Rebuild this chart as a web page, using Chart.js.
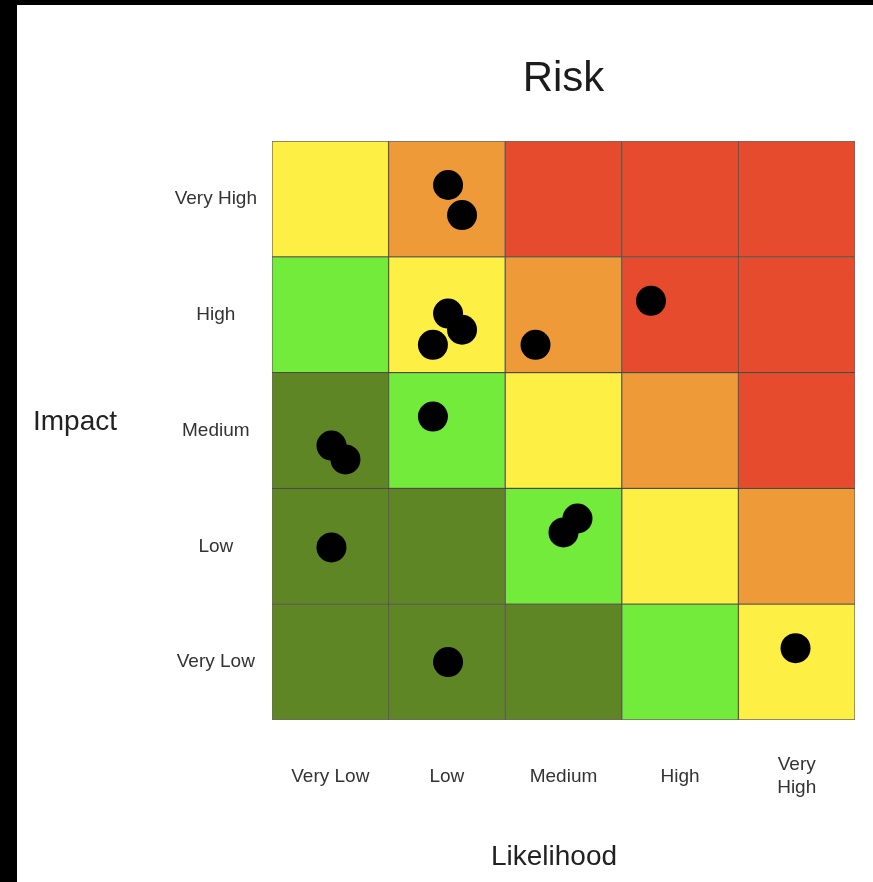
<!DOCTYPE html>
<html>
<head>
<meta charset="utf-8">
<title>Risk</title>
<script src="https://cdn.jsdelivr.net/npm/chart.js@4.4.1/dist/chart.umd.min.js"></script>
<style>
  html, body { margin: 0; padding: 0; background: #000; width: 873px; height: 882px; overflow: hidden; }
  #wrap { position: absolute; left: 17px; top: 5px; width: 856px; height: 877px; background: #fff; }
  canvas { display: block; background: #fff; }
</style>
</head>
<body>
<div id="wrap"><canvas id="risk" width="856" height="877"></canvas></div>
<script>
// Axis categories
const likelihoodLabels = ['Very Low', 'Low', 'Medium', 'High', ['Very', 'High']];
const impactLabels = ['Very Low', 'Low', 'Medium', 'High', 'Very High'];

// Risk level of each cell, rows from Very Low impact (bottom) to Very High impact (top),
// columns from Very Low likelihood to Very High likelihood
const levelVeryLow  = [0, 0, 0, 1, 2];
const levelLow      = [0, 0, 1, 2, 3];
const levelMedium   = [0, 1, 2, 3, 4];
const levelHigh     = [1, 2, 3, 4, 4];
const levelVeryHigh = [2, 3, 4, 4, 4];
const levelRows = [levelVeryLow, levelLow, levelMedium, levelHigh, levelVeryHigh];

// Colour per risk level: very low .. very high
const levelColors = ['#5E8624', '#72EB3B', '#FDEF44', '#EE9A38', '#E64B2D'];

// Individual risks placed on the matrix (likelihood, impact), 0..5 per axis
const riskLikelihood = [1.51, 1.63, 1.51, 1.63, 1.38, 2.26, 3.25, 1.38, 0.51, 0.63, 0.51, 2.50, 2.62, 1.51, 4.49];
const riskImpact     = [4.62, 4.36, 3.51, 3.37, 3.24, 3.24, 3.62, 2.62, 2.37, 2.25, 1.49, 1.62, 1.74, 0.50, 0.62];

const centers = [0.5, 1.5, 2.5, 3.5, 4.5];

// One floating-bar dataset per impact row, each bar spanning one cell
const cellDatasets = levelRows.map((row, r) => ({
  type: 'bar',
  label: impactLabels[r],
  data: row.map((lvl, c) => ({ x: centers[c], y: [r, r + 1] })),
  backgroundColor: row.map(lvl => levelColors[lvl]),
  borderColor: 'rgba(30, 25, 10, 0.65)',
  borderWidth: 1,
  borderSkipped: false,
  grouped: false,
  barPercentage: 1,
  categoryPercentage: 1,
  order: 1
}));

const riskDataset = {
  type: 'scatter',
  label: 'Risks',
  data: riskLikelihood.map((x, i) => ({ x: x, y: riskImpact[i] })),
  backgroundColor: '#000',
  borderColor: '#000',
  borderWidth: 0,
  pointRadius: 15,
  pointHoverRadius: 15,
  order: 0
};

// Side labels that sit horizontally outside the axes
const sideLabels = {
  id: 'sideLabels',
  afterDraw(chart) {
    const ctx = chart.ctx;
    ctx.save();
    ctx.fillStyle = '#222';
    ctx.font = '28px "Liberation Sans", Arial, sans-serif';
    ctx.textBaseline = 'alphabetic';
    ctx.textAlign = 'left';
    ctx.fillText('Impact', 16, 425);
    ctx.textAlign = 'center';
    ctx.fillText('Likelihood', 537, 860);
    ctx.restore();
  }
};

const tickFont = { family: '"Liberation Sans", Arial, sans-serif', size: 19 };

new Chart(document.getElementById('risk'), {
  type: 'bar',
  data: { datasets: [riskDataset, ...cellDatasets] },
  options: {
    responsive: false,
    animation: false,
    events: [],
    layout: { padding: { left: 0, right: 18, top: 0, bottom: 0 } },
    plugins: {
      legend: { display: false },
      tooltip: { enabled: false },
      title: {
        display: true,
        text: 'Risk',
        fullSize: false,
        color: '#1c1c1c',
        font: { family: '"Liberation Sans", Arial, sans-serif', size: 42, weight: 'normal', lineHeight: 1.2 },
        padding: { top: 49, bottom: 36.6 }
      }
    },
    scales: {
      x: {
        type: 'linear',
        min: 0,
        max: 5,
        offset: false,
        grid: { display: false, offset: false, drawTicks: true, tickLength: 45 },
        border: { display: false },
        afterBuildTicks(scale) { scale.ticks = centers.map(v => ({ value: v })); },
        afterFit(scale) {
          scale.height = 162;
          scale.paddingLeft = 0;
          scale.paddingRight = 0;
        },
        ticks: {
          color: '#333',
          font: tickFont,
          padding: 0,
          crossAlign: 'center',
          maxRotation: 0,
          autoSkip: false,
          callback: (value, index) => likelihoodLabels[index]
        }
      },
      y: {
        type: 'linear',
        min: 0,
        max: 5,
        offset: false,
        grid: { display: false, drawTicks: true, tickLength: 15 },
        border: { display: false },
        afterBuildTicks(scale) { scale.ticks = centers.map(v => ({ value: v })); },
        afterFit(scale) {
          scale.width = 255;
          scale.paddingTop = 0;
          scale.paddingBottom = 0;
        },
        ticks: {
          color: '#333',
          font: tickFont,
          padding: 0,
          crossAlign: 'center',
          autoSkip: false,
          callback: (value, index) => impactLabels[index]
        }
      }
    }
  },
  plugins: [sideLabels]
});
</script>
</body>
</html>
